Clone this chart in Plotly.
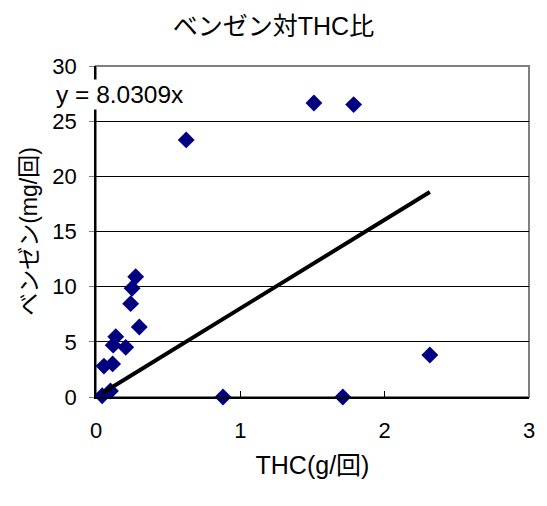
import plotly.graph_objects as go

# THC emission (g/回) vs benzene emission (mg/回)
thc = [0.043, 0.055, 0.10, 0.115, 0.119, 0.137, 0.206, 0.24, 0.25, 0.275, 0.30,
       0.625, 0.88, 1.51, 1.71, 1.785, 2.313]
benzene = [0.12, 2.8, 0.54, 3.0, 4.7, 5.47, 4.5, 8.46, 9.85, 10.9, 6.35,
           23.3, 0.0, 26.65, 0.0, 26.5, 3.8]

slope = 8.0309  # least-squares fit through the origin
fit_x = [min(thc), max(thc)]
fit_y = [slope * v for v in fit_x]

font = "Liberation Sans, Arial, Noto Sans CJK JP, sans-serif"

fig = go.Figure()
fig.add_trace(go.Scatter(
    x=thc, y=benzene, mode="markers",
    marker=dict(symbol="diamond", size=13, color="#000080"),
    cliponaxis=False, showlegend=False,
))
fig.add_trace(go.Scatter(
    x=fit_x, y=fit_y, mode="lines",
    line=dict(color="black", width=4), showlegend=False,
))

fig.update_layout(
    width=547, height=506,
    margin=dict(l=96, r=14, t=66, b=109),
    paper_bgcolor="white", plot_bgcolor="white",
    font=dict(family=font, size=22, color="black"),
    title=dict(text="ベンゼン対THC比", x=0.5, xanchor="center",
               y=0.948, yanchor="middle", font=dict(size=25)),
    shapes=[dict(type="rect", xref="paper", yref="paper", x0=0, y0=0, x1=1, y1=1,
                 line=dict(color="#808080", width=2), layer="below")],
    annotations=[dict(text="y = 8.0309x", xref="paper", yref="paper",
                      x=-0.097, y=0.915, xanchor="left", yanchor="middle",
                      showarrow=False, bgcolor="white",
                      font=dict(size=24.5))],
)
fig.update_xaxes(
    range=[0, 3], dtick=1, showgrid=False, zeroline=False,
    showline=True, linecolor="black", linewidth=1.5,
    ticks="inside", ticklen=6, tickcolor="black",
    ticklabelstandoff=13, tickfont=dict(size=22),
    title=dict(text="THC(g/回)", standoff=14, font=dict(size=25)),
)
fig.update_yaxes(
    range=[0, 30], dtick=5, showgrid=True, gridcolor="black", gridwidth=1,
    zeroline=False, showline=True, linecolor="black", linewidth=1.5,
    ticks="outside", ticklen=5, tickcolor="#808080",
    ticklabelstandoff=8, tickfont=dict(size=22),
    title=dict(text="ベンゼン(mg/回)", standoff=8, font=dict(size=23)),
)

fig.write_html("out.html")
